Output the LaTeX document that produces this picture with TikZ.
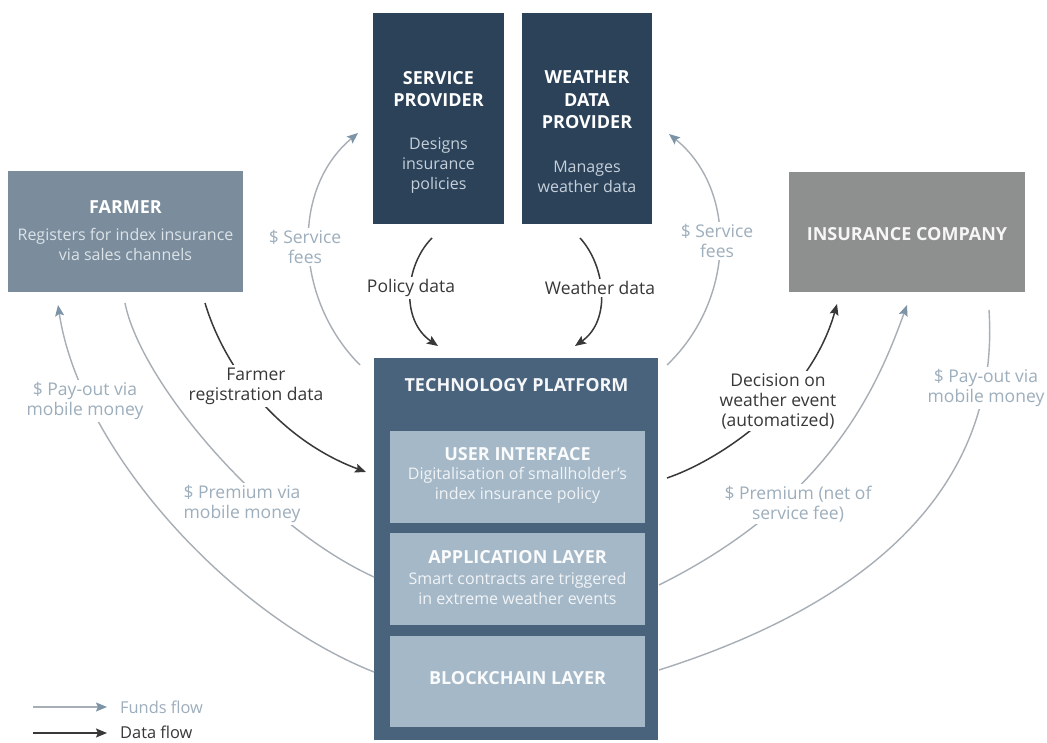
\documentclass[tikz,border=0pt]{standalone}
\usepackage{fontspec}
\setmainfont{Open Sans}
\usetikzlibrary{arrows.meta}
\definecolor{farmerc}{HTML}{7B8D9C}
\definecolor{navyc}{HTML}{2B4259}
\definecolor{insc}{HTML}{8E8F8F}
\definecolor{platc}{HTML}{49637D}
\definecolor{layerc}{HTML}{A5B8C7}
\definecolor{fundline}{HTML}{A7AEB5}
\definecolor{fundtip}{HTML}{7D93A6}
\definecolor{fundtext}{HTML}{9DAEBC}
\definecolor{datac}{HTML}{383838}
\definecolor{lighttext}{HTML}{DCE3E9}
\definecolor{sptext}{HTML}{C5D0DA}
\begin{document}
\begin{tikzpicture}[x=1pt,y=-1pt,
  box/.style={draw=none, inner sep=0pt},
  titletxt/.style={font=\fontsize{18}{22.5}\selectfont\bfseries, text=white, align=center, inner sep=0pt},
  desctxt/.style={font=\fontsize{16}{20}\selectfont, align=center, inner sep=0pt},
  fundlbl/.style={font=\fontsize{17.5}{19.5}\selectfont, text=fundtext, align=center, fill=white, inner sep=2.5pt},
  datalbl/.style={font=\fontsize{17.5}{20}\selectfont, text=datac, align=center, fill=white, inner sep=2.5pt},
  legtxt/.style={font=\fontsize{16.4}{18}\selectfont, anchor=west, inner sep=0pt},
  funds/.style={draw=fundline, line width=1.4pt, -{Stealth[length=11pt,width=9pt,inset=2pt,color=fundtip]}},
  fundsplain/.style={draw=fundline, line width=1.4pt},
  dataflow/.style={draw=datac, line width=1.5pt, -{Stealth[length=11pt,width=9pt,inset=2pt]}}
]
\useasboundingbox[fill=white] (0,0) rectangle (1047,743);

% boxes
\node[box, fill=farmerc, minimum width=235pt, minimum height=121pt] (farmer) at (125.5,232) {};
\node[box, fill=navyc, minimum width=131pt, minimum height=211pt] (sp) at (438.5,118.5) {};
\node[box, fill=navyc, minimum width=130pt, minimum height=211pt] (wdp) at (587,118.5) {};
\node[box, fill=insc, minimum width=236pt, minimum height=120pt] (ins) at (907,232) {};
\node[box, fill=platc, minimum width=284pt, minimum height=382pt] (tp) at (516,549) {};
\node[box, fill=layerc, minimum width=255pt, minimum height=92pt] (ui) at (517.5,477) {};
\node[box, fill=layerc, minimum width=255pt, minimum height=92pt] (al) at (517.5,579) {};
\node[box, fill=layerc, minimum width=255pt, minimum height=91pt] (bl) at (517.5,681.5) {};

% box texts
\node[titletxt] (farmerT) at (125.5,207) {FARMER};
\node[desctxt, text=lighttext] (farmerD) at (125.5,244) {Registers for index insurance\\via sales channels};
\node[titletxt] (spT) at (438.5,89) {SERVICE\\PROVIDER};
\node[desctxt, text=sptext] (spD) at (438.5,166) {Designs\\insurance\\policies};
\node[titletxt] (wdpT) at (587,100) {WEATHER\\DATA\\PROVIDER};
\node[desctxt, text=sptext] (wdpD) at (587,177) {Manages\\weather data};
\node[titletxt, text=white!92!insc] (insT) at (907,234) {INSURANCE COMPANY};
\node[titletxt, text=white!95!platc] (tpT) at (516.5,385) {TECHNOLOGY PLATFORM};
\node[titletxt, text=white!95!layerc] (uiT) at (517.5,454) {USER INTERFACE};
\node[desctxt, text=white!85!layerc] (uiD) at (517.5,485) {Digitalisation of smallholder's\\index insurance policy};
\node[titletxt, text=white!95!layerc] (alT) at (517.5,557) {APPLICATION LAYER};
\node[desctxt, text=white!85!layerc] (alD) at (517.5,588) {Smart contracts are triggered\\in extreme weather events};
\node[titletxt, text=white!95!layerc] (blT) at (517.5,678) {BLOCKCHAIN LAYER};

% connector end points
\coordinate (sfLs) at (360,365);
\coordinate (sfLe) at (358,133);
\coordinate (sfRs) at (667,365);
\coordinate (sfRe) at (669,134);
\coordinate (pds) at (432,238);
\coordinate (pde) at (438,346);
\coordinate (wds) at (580,238);
\coordinate (wde) at (575,346);
\coordinate (frs) at (205,303);
\coordinate (fre) at (366,472);
\coordinate (pls) at (125,303);
\coordinate (ple) at (374,577);
\coordinate (pols) at (374,672);
\coordinate (pole) at (58,305);
\coordinate (des) at (667,478);
\coordinate (dee) at (837,304);
\coordinate (pns) at (659,585);
\coordinate (pne) at (907,305);
\coordinate (pors) at (989,310);
\coordinate (pore) at (659,670);

% funds flows
\draw[funds] (sfLs) .. controls (295,300) and (290,190) .. (sfLe);
\draw[funds] (sfRs) .. controls (735,300) and (738,190) .. (sfRe);
\draw[fundsplain] (pls) .. controls (140,380) and (260,525) .. (ple);
\draw[funds] (pols) .. controls (230,615) and (80,450) .. (pole);
\draw[funds] (pns) .. controls (830,500) and (878,385) .. (pne);
\draw[fundsplain] (pors) .. controls (1000,480) and (880,600) .. (pore);

% data flows
\draw[dataflow] (pds) .. controls (405,265) and (400,320) .. (pde);
\draw[dataflow] (wds) .. controls (605,265) and (612,320) .. (wde);
\draw[dataflow] (frs) .. controls (225,370) and (280,440) .. (fre);
\draw[dataflow] (des) .. controls (720,460) and (810,400) .. (dee);

% labels
\node[fundlbl] (lsfL) at (305,247) {\$ Service\\fees};
\node[fundlbl] (lsfR) at (717,241) {\$ Service\\fees};
\node[datalbl] (lpd) at (411,288) {Policy data};
\node[datalbl] (lwd) at (600,288) {Weather data};
\node[datalbl] (lfr) at (256,386) {Farmer\\registration data};
\node[fundlbl] (lpol) at (85,401) {\$ Pay-out via\\mobile money};
\node[fundlbl] (lpl) at (242,504) {\$ Premium via\\mobile money};
\node[datalbl] (lde) at (778,401) {Decision on\\weather event\\(automatized)};
\node[fundlbl] (lpn) at (798,504) {\$ Premium (net of\\service fee)};
\node[fundlbl] (lpor) at (986,388) {\$ Pay-out via\\mobile money};

% legend
\coordinate (lg1s) at (33,707);
\coordinate (lg1e) at (107,707);
\coordinate (lg2s) at (33,733);
\coordinate (lg2e) at (107,733);
\draw[funds] (lg1s) -- (lg1e);
\draw[dataflow] (lg2s) -- (lg2e);
\node[legtxt, text=fundtext] (lgf) at (120,707) {Funds flow};
\node[legtxt, text=datac] (lgd) at (120,732) {Data flow};
\end{tikzpicture}
\end{document}
